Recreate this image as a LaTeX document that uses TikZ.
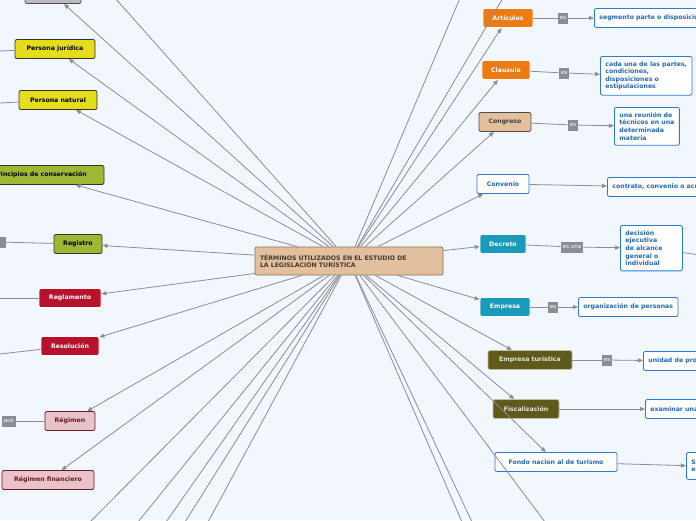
\documentclass[tikz,border=0pt]{standalone}
\usepackage{fontspec}
\setmainfont{DejaVu Sans}
\usetikzlibrary{arrows.meta}
\definecolor{bg}{HTML}{F2F6FD}
\definecolor{lnk}{HTML}{8C8C94}
\definecolor{orng}{HTML}{EE7A12}
\definecolor{tan}{HTML}{E2C09E}
\definecolor{teal}{HTML}{1A9BBB}
\definecolor{olive}{HTML}{5E5A1C}
\definecolor{blu}{HTML}{2B7BD6}
\definecolor{yel}{HTML}{E5DD1A}
\definecolor{grn}{HTML}{9DB832}
\definecolor{rd}{HTML}{B7112B}
\definecolor{pnk}{HTML}{E8C4C8}
\definecolor{wine}{HTML}{6E1830}
\begin{document}
\begin{tikzpicture}[x=1pt,y=-1pt,>={Triangle[length=5pt,width=4pt]},
  every node/.style={font=\fontsize{6.2}{7.6}\selectfont\bfseries},
  term/.style={rounded corners=2pt,draw,thick,minimum height=19pt,inner xsep=5pt},
  desc/.style={rounded corners=2pt,draw=blu,thick,fill=white,text=blu!85!black,align=left,inner sep=5pt},
  tag/.style={fill=lnk,text=white,font=\fontsize{5.6}{6.6}\selectfont,inner sep=2pt,minimum height=11pt},
  link/.style={draw=lnk,thick,->},
  plain/.style={draw=lnk,thick}]
\fill[bg] (0,0) rectangle (696,520);
\useasboundingbox (0,0) rectangle (696,520);

\node[term,fill=tan,draw=tan!60!black,text=tan!30!black,align=left,text width=178pt,minimum height=28pt] (c) at (349,261) {TÉRMINOS UTILIZADOS EN EL ESTUDIO DE\\LA LEGISLACIÓN TURÍSTICA};

% left side
\node[term,fill=lnk!60,draw=black!70,minimum width=56pt] (top) at (53,-6) {};
\node[term,fill=yel,draw=black!80,minimum width=80pt] (pj) at (55,49) {Persona jurídica};
\node[term,fill=yel,draw=black!80,minimum width=78pt] (pn) at (58,100) {Persona natural};
\node[term,fill=grn,draw=black!80,minimum width=128pt] (pc) at (40,175) {Principios de conservación};
\node[term,fill=grn,draw=black!80,minimum width=48pt] (reg) at (78,244) {Registro};
\node[term,fill=rd,draw=white,text=white,minimum width=62pt] (rgl) at (70,298) {Reglamento};
\node[term,fill=rd,draw=white,text=white,minimum width=58pt] (res) at (70,346) {Resolución};
\node[term,fill=pnk,draw=wine,text=wine,minimum width=50pt] (rgm) at (70,421) {Régimen};
\node[term,fill=pnk,draw=wine,text=wine,minimum width=92pt] (rgf) at (48,480) {Régimen financiero};
\node[tag,minimum width=16pt] (treg) at (-2,242) {};
\node[tag,anchor=east] (trgm) at (16,421) {ace};

% right side
\node[term,fill=orng,draw=white,text=white,minimum width=50pt] (art) at (508,18) {Artículos};
\node[term,fill=orng,draw=white,text=white,minimum width=48pt] (cla) at (506,70) {Clausula};
\node[term,fill=tan,draw=black!70,text=black!75,minimum width=52pt] (con) at (505,122) {Congreso};
\node[term,fill=white,draw=blu,text=blu!85!black,minimum width=52pt] (cnv) at (503,184) {Convenio};
\node[term,fill=teal,draw=white,text=white,minimum width=46pt] (dec) at (503,244) {Decreto};
\node[term,fill=teal,draw=white,text=white,minimum width=50pt] (emp) at (505,307) {Empresa};
\node[term,fill=olive,draw=olive!40,text=olive!15,minimum width=84pt] (emt) at (530,360) {Empresa turística};
\node[term,fill=olive,draw=olive!40,text=olive!15,minimum width=66pt] (fis) at (526,409) {Fiscalización};
\node[term,fill=white,draw=blu,text=blu!85!black,minimum width=122pt] (fon) at (556,462) {Fondo nacion al de turismo};

\node[desc,anchor=west,minimum height=19pt] (dart) at (594,18) {segmento parte o disposición};
\node[desc,anchor=north west] (dcla) at (600,56) {cada una de las partes,\\condiciones,\\disposiciones o\\estipulaciones};
\node[desc,anchor=north west] (dcon) at (614,107) {una reunión de\\técnicos en una\\determinada\\materia};
\node[desc,anchor=west,minimum height=19pt] (dcnv) at (607,187) {contrato, convenio o acuerdo};
\node[desc,anchor=north west,text width=52pt] (ddec) at (620,225) {decisión\\ejecutiva\\de alcance\\general o\\individual};
\node[desc,anchor=west,minimum height=19pt] (demp) at (578,307) {organización de personas};
\node[desc,anchor=west,minimum height=19pt] (demt) at (643,361) {unidad de producción};
\node[desc,anchor=west,minimum height=19pt] (dfis) at (645,409) {examinar una actividad};
\node[desc,anchor=north west,minimum height=27pt] (dfon) at (686,452) {Se\\es};

\node[tag] (tart) at (563,18) {es};
\node[tag] (tcla) at (564,73) {es};
\node[tag] (tcon) at (573,125) {es};
\node[tag] (tdec) at (572,247) {es una};
\node[tag] (temp) at (553,307) {es};
\node[tag] (temt) at (607,360) {es};

% off-page ends
\coordinate (o1) at (115,-2);
\coordinate (o2) at (460,-2);
\coordinate (o3) at (503,-2);
\coordinate (o4) at (0,51);
\coordinate (o5) at (0,103);
\coordinate (o6) at (0,298);
\coordinate (o7) at (0,354);
\coordinate (o8) at (700,255);
\foreach \x in {90,138,166,185,208,462,472,545}
  \coordinate (b\x) at (\x,522);

% connectors
\foreach \n in {top,pj,pn,pc,reg,rgl,res,rgm,rgf,art,cla,con,cnv,dec,emp,emt,fis,fon}
  \draw[link] (c) -- (\n);
\foreach \n in {o1,o2,o3,b90,b138,b166,b185,b208,b462,b472,b545}
  \draw[plain] (c) -- (\n);
\draw[plain] (pj) -- (o4);
\draw[plain] (pn) -- (o5);
\draw[plain] (reg) -- (treg);
\draw[plain] (rgl) -- (o6);
\draw[plain] (res) -- (o7);
\draw[plain] (rgm) -- (trgm);
\draw[plain] (ddec) -- (o8);
\draw[plain] (art) -- (tart); \draw[link] (tart) -- (dart);
\draw[plain] (cla) -- (tcla); \draw[link] (tcla) -- (dcla);
\draw[plain] (con) -- (tcon); \draw[link] (tcon) -- (dcon);
\draw[link] (cnv) -- (dcnv);
\draw[plain] (dec) -- (tdec); \draw[link] (tdec) -- (ddec);
\draw[plain] (emp) -- (temp); \draw[link] (temp) -- (demp);
\draw[plain] (emt) -- (temt); \draw[link] (temt) -- (demt);
\draw[link] (fis) -- (dfis);
\draw[link] (fon) -- (dfon);
\end{tikzpicture}
\end{document}
